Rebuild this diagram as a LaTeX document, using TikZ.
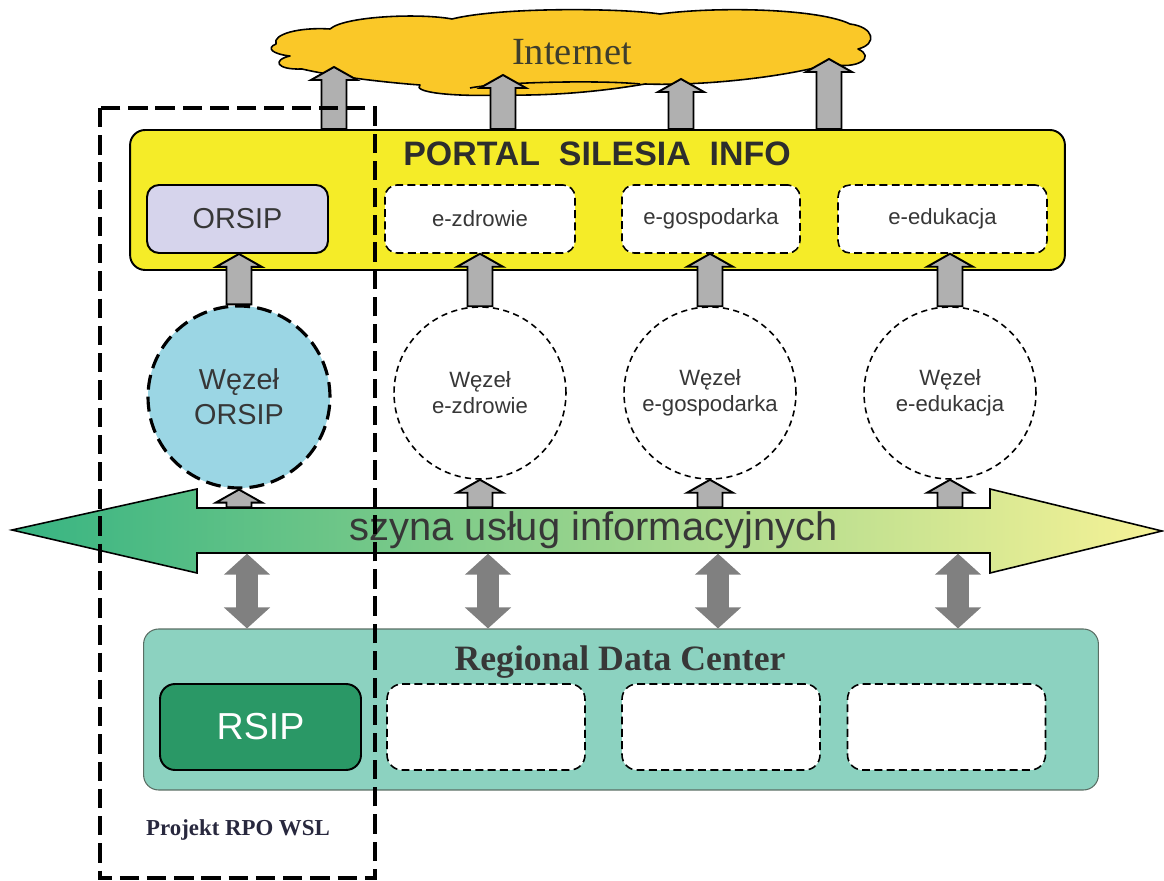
\documentclass[tikz,border=0pt]{standalone}
\usepackage{fontspec}
\setmainfont{Liberation Serif}
\setsansfont{Liberation Sans}
\usetikzlibrary{arrows.meta,calc}

\begin{document}
\begin{tikzpicture}[x=0.02cm, y=-0.02cm, thick, font=\sffamily,
	cloudfill/.style={draw, fill=cloudgold, line width=0.9pt, line join=round},
	nettxt/.style={inner sep=0, font=\rmfamily\fontsize{21.9}{24}\selectfont, text=netolive},
	portalbox/.style={draw, line width=1.1pt, fill=portalyellow, rounded corners=0.3cm,
		minimum width=18.7cm, minimum height=2.8cm, inner sep=0},
	titletxt/.style={font=\sffamily\bfseries\fontsize{19.3}{21}\selectfont, text=titlegray, inner sep=0},
	orsipbox/.style={draw, line width=1.1pt, fill=orsiplilac, rounded corners=0.24cm,
		minimum width=3.62cm, minimum height=1.36cm, text=txtgray, font=\sffamily\fontsize{16.4}{18}\selectfont},
	servbox/.style={draw, line width=0.9pt, dash pattern=on 4.5pt off 2.5pt, fill=white, rounded corners=0.24cm,
		minimum height=1.36cm, text=txtgray, font=\sffamily\fontsize{12.6}{14}\selectfont},
	orsipnode/.style={draw, circle, line width=1.8pt, dash pattern=on 8.5pt off 4pt, fill=nodeblue,
		minimum size=3.64cm, inner sep=0, align=center, text=txtgray, font=\sffamily\fontsize{16.4}{20}\selectfont},
	servnode/.style={draw, circle, line width=0.9pt, dash pattern=on 3.5pt off 2.5pt, fill=white,
		minimum size=3.44cm, inner sep=0, align=center, text=txtgray, font=\sffamily\fontsize{12.6}{14.7}\selectfont},
	busfill/.style={draw, line width=0.9pt, left color=busgreen, middle color=busmid, right color=busyellow},
	bustxt/.style={minimum width=15.86cm, minimum height=0.9cm, inner sep=0, text=txtgray,
		font=\sffamily\fontsize{22.7}{24}\selectfont},
	liftstyle/.style={draw, fill=liftgray, line width=1.1pt, line join=miter},
	duplex/.style={draw=duplexgray, line width=0.44cm,
		{Triangle[width=0.9cm,length=0.42cm]}-{Triangle[width=0.9cm,length=0.42cm]}},
	rdcbox/.style={draw=rdcedge, line width=0.6pt, fill=rdcteal, rounded corners=0.3cm,
		minimum width=19.1cm, minimum height=3.22cm, inner sep=0},
	rdctitle/.style={font=\rmfamily\bfseries\fontsize{20.3}{22}\selectfont, text=txtgray, inner sep=0},
	rsipbox/.style={draw, line width=1.1pt, fill=rsipgreen, rounded corners=0.3cm,
		minimum width=4.02cm, minimum height=1.72cm, text=white, font=\sffamily\fontsize{21.4}{24}\selectfont},
	slotbox/.style={draw, line width=0.9pt, dash pattern=on 4.5pt off 2.5pt, fill=white, rounded corners=0.3cm,
		minimum width=3.96cm, minimum height=1.72cm},
	projframe/.style={draw, line width=2pt, dash pattern=on 11pt off 4.5pt},
	projtxt/.style={font=\rmfamily\bfseries\fontsize{13}{15}\selectfont, text=projnavy, inner sep=0}]

	\definecolor{portalyellow}{RGB}{245, 236, 40}
	\definecolor{orsiplilac}{RGB}{214, 212, 236}
	\definecolor{nodeblue}{RGB}{155, 214, 228}
	\definecolor{cloudgold}{RGB}{250, 200, 40}
	\definecolor{netolive}{RGB}{62, 62, 45}
	\definecolor{liftgray}{RGB}{176, 176, 176}
	\definecolor{duplexgray}{RGB}{128, 128, 128}
	\definecolor{rdcteal}{RGB}{140, 210, 192}
	\definecolor{rdcedge}{RGB}{90, 110, 100}
	\definecolor{rsipgreen}{RGB}{42, 152, 102}
	\definecolor{busgreen}{RGB}{55, 180, 130}
	\definecolor{busmid}{RGB}{170, 215, 140}
	\definecolor{busyellow}{RGB}{246, 242, 150}
	\definecolor{txtgray}{RGB}{55, 55, 55}
	\definecolor{titlegray}{RGB}{45, 45, 45}
	\definecolor{projnavy}{RGB}{40, 40, 62}

	\useasboundingbox (0, 0) rectangle (1164, 881);

	% \liftarrow#from#to (upward block arrow, x taken from #from)
	\def\liftarrow#1#2{
		\draw[liftstyle] let \p1=(#1), \p2=(#2) in
			(\x1-0.25cm, \y1) -- (\x1-0.25cm, \y2-0.26cm) -- (\x1-0.46cm, \y2-0.26cm) -- (\x1, \y2)
			-- (\x1+0.46cm, \y2-0.26cm) -- (\x1+0.25cm, \y2-0.26cm) -- (\x1+0.25cm, \y1) -- cycle;
	}

	% internet
	\draw[cloudfill] (276, 44) .. controls (272, 34) and (300, 27) .. (330, 29)
		.. controls (345, 16) and (420, 13) .. (452, 19)
		.. controls (500, 7) and (620, 8) .. (660, 14)
		.. controls (720, 6) and (820, 9) .. (850, 24)
		.. controls (874, 27) and (878, 44) .. (858, 49)
		.. controls (876, 57) and (858, 70) .. (830, 64)
		.. controls (780, 78) and (700, 86) .. (645, 84)
		.. controls (610, 90) and (560, 96) .. (505, 95)
		.. controls (450, 97) and (412, 92) .. (420, 85)
		.. controls (380, 82) and (332, 76) .. (302, 69)
		.. controls (276, 70) and (272, 60) .. (290, 56)
		.. controls (272, 54) and (266, 48) .. (276, 44) -- cycle;
	\draw[cloudfill, fill=none] (470, 88) .. controls (500, 82) and (600, 80) .. (640, 84);
	\node[nettxt] (net) at (572, 52) {Internet};
	\coordinate (up1) at (334, 67);
	\coordinate (up2) at (503, 75);
	\coordinate (up3) at (681, 79);
	\coordinate (up4) at (829, 59);

	% portal
	\node[portalbox] (portal) at (597.5, 200) {};
	\node[titletxt] (ptitle) at (597, 154) {PORTAL\ \ SILESIA\ \ INFO};
	\node[orsipbox] (ORSIP) at (237.5, 219) {ORSIP};
	\node[servbox, minimum width=3.8cm] (ezd) at (480, 219) {e-zdrowie};
	\node[servbox, minimum width=3.56cm] (egos) at (711, 219) {e-gospodarka};
	\node[servbox, minimum width=4.18cm] (eedu) at (942.5, 219) {e-edukacja};

	\foreach \t in {up1, up2, up3, up4}
		\liftarrow{portal.north -| \t}{\t};

	% nodes
	\node[orsipnode] (wORSIP) at (239, 397) {Węzeł\\ORSIP};
	\node[servnode] (wezd) at (480, 393) {Węzeł\\e-zdrowie};
	\node[servnode] (wegos) at (710, 393) {Węzeł\\e-gospodarka};
	\node[servnode] (wedu) at (950, 393) {Węzeł\\e-edukacja};

	\liftarrow{wORSIP.north}{ORSIP.south}
	\liftarrow{wezd.north}{ezd.south}
	\liftarrow{wegos.north}{egos.south}
	\liftarrow{wedu.north}{eedu.south}

	% bus
	\path[busfill] (12, 530) -- (197, 489) -- (197, 508) -- (990, 508) -- (990, 489) -- (1162, 531)
		-- (990, 573) -- (990, 553) -- (197, 553) -- (197, 573) -- cycle;
	\node[bustxt] (bus) at (593.5, 530.5) {szyna usług informacyjnych};

	\foreach \w in {wORSIP, wezd, wegos, wedu}
		\liftarrow{bus.north -| \w}{\w.south};

	% regional data center
	\node[rdcbox] (rdc) at (621, 709.5) {};
	\node[rdctitle] (rtitle) at (620, 662) {Regional Data Center};
	\node[rsipbox] (RSIP) at (260.5, 727) {RSIP};
	\node[slotbox] (slot1) at (486, 727) {};
	\node[slotbox] (slot2) at (721, 727) {};
	\node[slotbox] (slot3) at (946.5, 727) {};

	\foreach \w in {wORSIP, wezd, wegos, wedu}
		\draw[duplex] ($(bus.south -| \w)+(8, 0)$) -- ($(rdc.north -| \w)+(8, 0)$);

	% project frame
	\draw[projframe] (100, 108) rectangle (375, 878);
	\node[projtxt] (proj) at (238, 830) {Projekt RPO WSL};
\end{tikzpicture}
\end{document}
